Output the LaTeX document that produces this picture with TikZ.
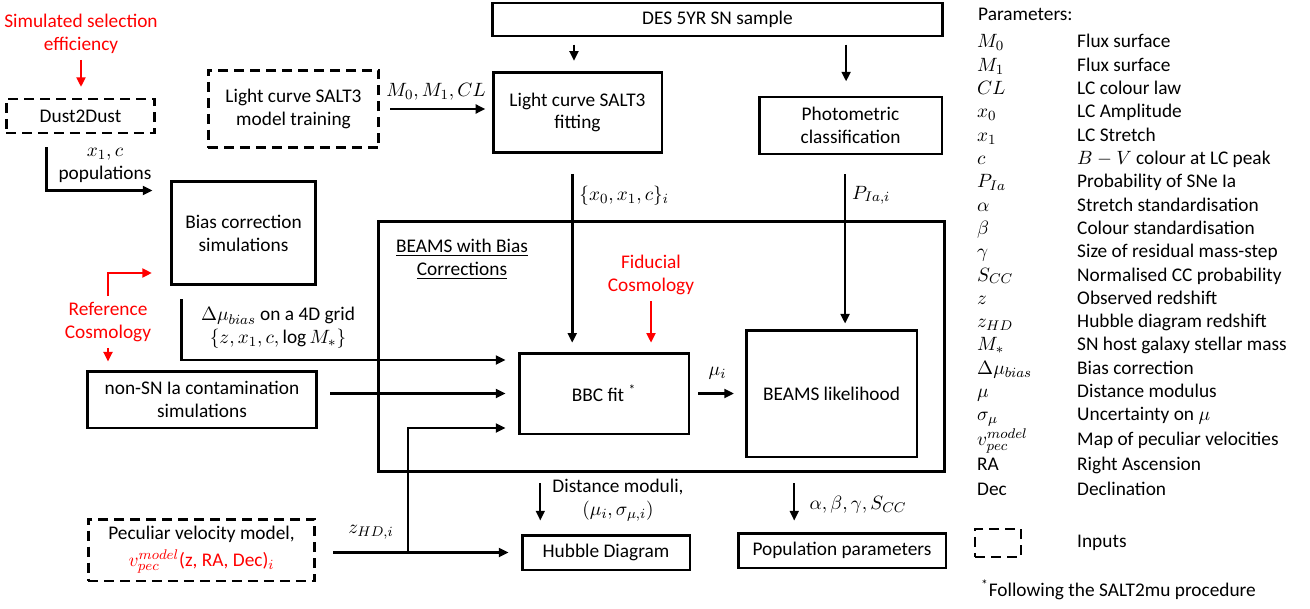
\documentclass[tikz,border=0pt]{standalone}
\usepackage{fontspec}
\setmainfont{Carlito}
\usetikzlibrary{arrows.meta, positioning, calc}
\tikzset{
  box/.style={draw, line width=1.7pt, align=center, inner sep=2pt},
  inbox/.style={box, dash pattern=on 5.7pt off 3.4pt},
  flow/.style={-{Triangle[length=5.5pt,width=5pt]}, line width=1.5pt},
  redflow/.style={flow, red},
  lbl/.style={align=center},
  note/.style={align=center, text=red},
}

\begin{document}
\begin{tikzpicture}[x=0.02cm, y=-0.02cm, font=\fontsize{11}{13}\selectfont]
\useasboundingbox (0,0) rectangle (1310,608);

% Inputs and simulations
\node[note] (sel) at (81,34) {Simulated selection\\efficiency};
\node[inbox, minimum width=2.98cm, minimum height=0.68cm] (dust) at (80.5,116) {Dust2Dust};
\node[inbox, minimum width=3.42cm, minimum height=1.56cm] (lctrain) at (293.5,109) {Light curve SALT3\\model training};
\node[box, minimum width=2.9cm, minimum height=2.08cm] (biassim) at (243.5,233) {Bias correction\\simulations};
\node[note] (refcos) at (108,322) {Reference\\Cosmology};
\node[box, minimum width=4.6cm, minimum height=1.14cm] (nonsn) at (202,399.5) {non-SN Ia contamination\\simulations};
\node[inbox, minimum width=4.54cm, minimum height=1.24cm, font=\fontsize{11}{15}\selectfont] (pecvel) at (201.5,550)
  {Peculiar velocity model,\\\textcolor{red}{$v_{pec}^{model}$(z, RA, Dec)$_i$}};

% Data and light curve fitting
\node[box, minimum width=9.02cm, minimum height=0.66cm] (des) at (717.5,19.5) {DES 5YR SN sample};
\node[box, minimum width=3.38cm, minimum height=1.62cm] (lcfit) at (577.5,112.5) {Light curve SALT3\\fitting};
\node[box, minimum width=3.66cm, minimum height=1.14cm] (photo) at (850.5,125.5) {Photometric\\classification};

% BEAMS
\node[box, minimum width=11.34cm, minimum height=5.02cm] (beams) at (661.5,346.5) {};
\node[lbl] (beamstitle) at (462,259) {\underline{BEAMS with Bias}\\\underline{Corrections}};
\node[note] (fidcos) at (651,275) {Fiducial\\Cosmology};
\node[box, minimum width=3.4cm, minimum height=1.62cm] (bbc) at (604,393.5) {BBC fit \textsuperscript{*}};
\node[box, minimum width=3.42cm, minimum height=2.54cm] (like) at (831.5,393.5) {BEAMS likelihood};

% Outputs
\node[box, minimum width=3.36cm, minimum height=0.7cm] (hubble) at (606,552.5) {Hubble Diagram};
\node[box, minimum width=4.16cm, minimum height=0.7cm] (popn) at (842,550.5) {Population parameters};

% Connectors
\draw[redflow, shorten >=6pt] (sel.south) -- (sel.south |- dust.north);
\draw[flow] ($(dust.south west)+(42,13)$) |- ($(biassim.north west)+(-17,11)$);
\node[lbl] (popl) at (105,165) {$x_1,c$\\populations};
\draw[flow, shorten <=5.5pt, shorten >=3.5pt] (lctrain.east) -- (lctrain.east -| lcfit.west)
  node[midway, above=1pt] {$M_0,M_1,CL$};
\draw[flow, shorten <=4pt, shorten >=5.5pt] ([xshift=-2pt]lcfit.north |- des.south) -- ([xshift=-2pt]lcfit.north);
\draw[flow, shorten <=4pt, shorten >=8pt] ([xshift=-2.5pt]photo.north |- des.south) -- ([xshift=-2.5pt]photo.north);
\draw[flow, shorten <=11pt, shorten >=5pt] ([xshift=-3pt]lcfit.south) -- ([xshift=-3pt]lcfit.south |- bbc.north)
  node[pos=0.21, right] {$\{x_0,x_1,c\}_i$};
\draw[flow, shorten <=10.8pt, shorten >=2.8pt] ([xshift=-3.1pt]photo.south) -- ([xshift=-3.1pt]photo.south |- like.north)
  node[pos=0.23, right] {$P_{Ia,i}$};
\draw[redflow, shorten >=5pt] (fidcos.south) -- (fidcos.south |- bbc.north);
\draw[flow, shorten <=4.5pt, shorten >=6pt] (bbc.east) -- (like.west) node[midway, above=4pt] {$\mu_i$};
\draw[flow, shorten >=6.8pt] ($(biassim.south west)+(12,13)$) |- ($(bbc.west)+(0,-33.5)$);
\node[lbl] (biaslbl) at (278,328) {$\Delta\mu_{bias}$ on a 4D grid\\$\{z,x_1,c,\log M_*\}$};
\draw[flow, shorten <=6.8pt, shorten >=6.8pt] (bbc.west -| nonsn.east) -- (bbc.west);
\draw[flow, shorten <=9.6pt, shorten >=6.8pt] (hubble.west -| pecvel.east) -- (hubble.west);
\coordinate (zsplit) at (408,552.5);
\draw[flow, shorten >=6.8pt] (zsplit) |- ($(bbc.west)+(0,34.5)$);
\node[lbl] (zlbl) at (371,532) {$z_{HD,i}$};
\draw[flow, line width=1.1pt, shorten <=5.7pt, shorten >=7.4pt] ([xshift=-37.4pt]hubble.north |- beams.south) -- ([xshift=-37.4pt]hubble.north);
\node[lbl] (dmlbl) at (618,500) {Distance moduli,\\$(\mu_i,\sigma_{\mu,i})$};
\draw[flow, line width=1.1pt, shorten <=5.7pt, shorten >=6.2pt] ([xshift=-27.2pt]popn.north |- beams.south) -- ([xshift=-27.2pt]popn.north);
\node[lbl] (poplbl) at (858,505) {$\alpha,\beta,\gamma,S_{CC}$};
\draw[redflow, shorten >=10pt] (refcos.north) |- ($(biassim.west)+(0,40)$);
\draw[redflow, shorten >=4.5pt] (refcos.south) -- (refcos.south |- nonsn.north);

% Legend
\node[anchor=base west] (partitle) at (972,21) {Parameters:};
\foreach \sym/\desc [count=\i] in {$M_0$/Flux surface, $M_1$/Flux surface, $CL$/LC colour law,
    $x_0$/LC Amplitude, $x_1$/LC Stretch, $c$/{$B-V$ colour at LC peak}, $P_{Ia}$/Probability of SNe Ia,
    $\alpha$/Stretch standardisation, $\beta$/Colour standardisation, $\gamma$/Size of residual mass-step,
    $S_{CC}$/Normalised CC probability, $z$/Observed redshift, $z_{HD}$/Hubble diagram redshift,
    $M_*$/SN host galaxy stellar mass, $\Delta\mu_{bias}$/Bias correction, $\mu$/Distance modulus,
    $\sigma_\mu$/{Uncertainty on $\mu$}, $v_{pec}^{model}$/Map of peculiar velocities,
    RA/Right Ascension, Dec/Declination} {
  \pgfmathsetmacro{\rowy}{48+23.3*(\i-1)+1.7*max(\i-17,0)}
  \node[anchor=base west] (sym\i) at (971,\rowy) {\sym};
  \node[anchor=base west] (desc\i) at (1071,\rowy) {\desc};
}
\node[inbox, line width=1.5pt, minimum width=0.92cm, minimum height=0.56cm] (leginput) at (998,543) {};
\node[anchor=west] (leginputtxt) at (1071,543) {Inputs};
\node[anchor=west] (footnote) at (975,590) {\textsuperscript{*}Following the SALT2mu procedure};
\end{tikzpicture}
\end{document}
